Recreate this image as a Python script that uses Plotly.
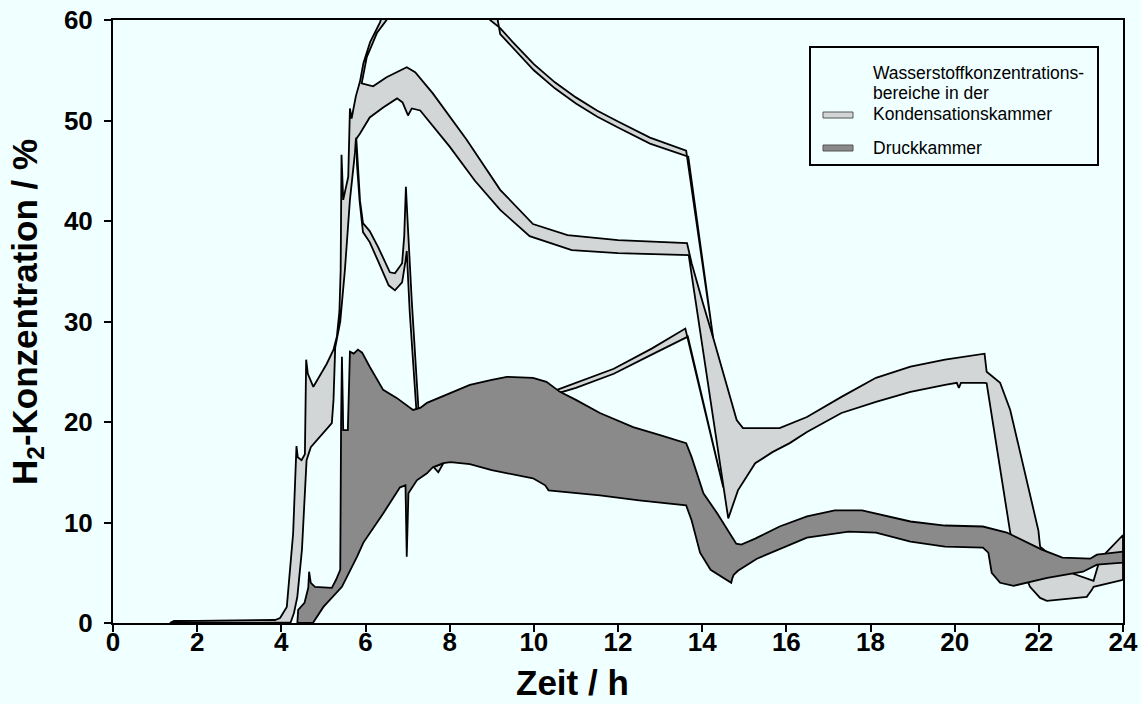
import plotly.graph_objects as go

# ---------------------------------------------------------------
# Wasserstoffkonzentrationsbereiche (Zeit in h, H2-Konzentration in %)
# Each band is described by its boundary curves (t, c).
# ---------------------------------------------------------------

# Kondensationskammer - rising band, left/upper edge (goes past 60 %)
rise_outer_t = [1.35, 1.45, 2.0, 3.0, 3.85, 3.97, 4.13, 4.28, 4.34, 4.36, 4.39, 4.48, 4.56,
                4.58, 4.59, 4.63, 4.76, 4.9, 5.08, 5.24, 5.32, 5.38, 5.41, 5.43, 5.47, 5.59,
                5.63, 5.67, 5.77, 5.87, 5.95, 6.11, 6.35, 6.45]
rise_outer_c = [0.0, 0.2, 0.22, 0.25, 0.3, 0.5, 1.6, 8.9, 15.5, 17.6, 16.5, 16.2, 16.8,
                22.0, 26.2, 24.8, 23.5, 24.5, 25.8, 27.2, 28.5, 31.0, 35.1, 46.6, 42.1, 44.4,
                51.2, 50.2, 52.4, 53.9, 55.7, 57.8, 59.8, 61.5]
# inner edge of the rising band, coming back from above 60 %
rise_inner_t = [6.6, 6.5, 6.27, 6.03, 5.91]
rise_inner_c = [61.5, 60.0, 58.7, 56.3, 53.7]
# band reaching 55 % at 7 h, upper edge
band2_upper_t = [6.18, 6.5, 6.98, 7.18, 7.6, 8.0, 8.4, 9.2, 9.98, 10.8, 12.0, 13.64]
band2_upper_c = [53.4, 54.3, 55.3, 54.8, 52.7, 50.4, 48.1, 43.1, 39.7, 38.6, 38.1, 37.8]
# band after 13.6 h, upper edge
tail_upper_t = [13.75, 14.02, 14.26, 14.82, 14.97, 15.84, 16.49, 17.31, 18.13, 18.95, 19.77,
                20.71, 20.76, 21.08, 21.32, 21.99, 22.03, 22.5, 22.82, 23.3, 23.42, 23.6, 24.0]
tail_upper_c = [35.8, 31.8, 28.4, 20.2, 19.4, 19.4, 20.5, 22.5, 24.4, 25.5, 26.2,
                26.8, 25.0, 23.9, 21.2, 9.2, 7.6, 6.0, 4.9, 4.2, 5.9, 7.0, 8.75]
# band after 13.6 h, lower edge (from 24 h back to the minimum at 14.6 h)
tail_lower_t = [24.0, 23.3, 23.26, 23.14, 22.19, 22.03, 21.79, 21.55, 21.32, 20.76, 20.71,
                20.15, 20.1, 20.05, 19.77, 18.95, 18.13, 17.31, 16.49, 16.08, 15.67, 15.26,
                14.85, 14.62]
tail_lower_c = [4.3, 3.6, 3.3, 2.6, 2.2, 2.5, 3.6, 6.0, 9.0, 23.85, 23.9,
                23.9, 23.4, 23.9, 23.7, 23.0, 22.0, 20.9, 19.0, 17.9, 17.0, 15.9,
                13.2, 10.4]
# band reaching 55 % at 7 h, lower edge (right to left)
band2_lower_t = [13.68, 12.0, 10.9, 9.9, 9.2, 8.6, 8.0, 7.3, 7.1, 7.01, 6.88, 6.75, 6.42,
                 6.1, 5.87, 5.77]
band2_lower_c = [36.6, 36.8, 37.1, 38.5, 41.1, 44.0, 47.4, 51.0, 51.2, 50.5, 51.8, 52.2, 51.3,
                 50.3, 48.7, 48.1]
# rising band, right edge (top to bottom) and base line
rise_right_t = [5.75, 5.63, 5.51, 5.4, 5.28, 5.24, 5.2, 5.0, 4.7, 4.6, 4.49, 4.38, 4.3,
                4.22, 3.9, 1.5]
rise_right_c = [46.8, 42.1, 35.1, 30.0, 27.4, 22.2, 19.9, 18.9, 17.5, 16.2, 7.3, 2.6, 1.0,
                0.05, 0.05, 0.05]

# Kondensationskammer - narrow band above 47 % (9 h .. 14.3 h)
top_upper_t = [8.9, 8.96, 9.2, 9.5, 10.0, 10.5, 11.0, 11.5, 12.0, 12.76, 13.62, 14.26]
top_upper_c = [61.0, 60.0, 59.2, 57.8, 55.6, 53.8, 52.3, 51.0, 49.9, 48.3, 47.0, 28.4]
top_lower_t = [13.67, 12.76, 12.0, 11.5, 11.0, 10.5, 10.0, 9.5, 9.2, 9.1]
top_lower_c = [46.4, 47.7, 49.3, 50.4, 51.7, 53.2, 55.0, 57.2, 58.6, 61.0]

# Kondensationskammer - narrow band rising to 29 % (10.5 h .. 14.5 h)
low_upper_t = [10.55, 11.0, 11.9, 12.8, 13.6, 14.5]
low_upper_c = [23.2, 23.9, 25.3, 27.3, 29.3, 13.5]
low_lower_t = [13.66, 12.8, 11.9, 11.0, 10.6]
low_lower_c = [28.5, 26.7, 24.8, 23.4, 22.9]

# Kondensationskammer - band 48 % -> 35 % with peak at 7 h
band3_upper_t = [5.78, 5.82, 5.87, 5.94, 6.1, 6.3, 6.58, 6.7, 6.87, 6.92, 6.96, 7.0, 7.1, 7.27]
band3_upper_c = [48.3, 45.0, 42.0, 39.8, 39.0, 37.4, 34.9, 34.8, 35.8, 38.5, 43.4, 40.0, 32.0, 20.5]
band3_lower_t = [7.22, 7.05, 6.98, 6.95, 6.87, 6.7, 6.55, 6.3, 6.1, 5.94, 5.86, 5.8, 5.77]
band3_lower_c = [20.5, 31.0, 37.0, 36.0, 33.9, 33.1, 33.6, 36.0, 37.9, 38.9, 42.0, 45.5, 48.0]

# Kondensationskammer - small range below the pressure chamber band near 7.7 h
notch_t = [7.62, 7.73, 7.85]
notch_c = [15.5, 15.0, 15.9]

# Druckkammer - upper edge
dk_upper_t = [4.38, 4.4, 4.55, 4.64, 4.66, 4.7, 4.8, 5.2, 5.3, 5.4, 5.42, 5.44, 5.46, 5.47,
              5.58, 5.6, 5.63, 5.72, 5.82, 5.92, 6.1, 6.42, 6.74, 7.13, 7.3, 7.46, 7.93, 8.48,
              9.0, 9.36, 9.98, 10.3, 10.62, 11.0, 11.57, 12.36, 13.0, 13.62, 13.75, 14.03,
              14.36, 14.81, 14.93, 15.26, 15.84, 16.49, 17.15, 17.8, 18.95, 19.77, 20.67,
              21.24, 22.07, 22.56, 23.22, 23.38, 24.0]
dk_upper_c = [0.0, 1.3, 2.0, 3.5, 5.1, 4.0, 3.6, 3.5, 4.3, 5.3, 20.0, 26.5, 22.0, 19.2,
              19.2, 24.0, 27.0, 26.8, 27.2, 26.9, 25.5, 23.2, 22.4, 21.2, 21.4, 21.9, 22.7, 23.7,
              24.2, 24.5, 24.4, 24.0, 23.0, 22.2, 20.9, 19.5, 18.7, 17.9, 16.5, 12.9,
              10.9, 7.9, 7.8, 8.4, 9.6, 10.6, 11.2, 11.2, 10.1, 9.7, 9.6,
              9.0, 7.3, 6.5, 6.4, 6.8, 7.1]
# Druckkammer - lower edge (right to left)
dk_lower_t = [24.0, 23.38, 23.05, 22.2, 21.72, 21.4, 21.08, 20.88, 20.8, 20.67, 19.77, 18.95,
              18.13, 17.48, 16.49, 15.67, 15.3, 15.0, 14.85, 14.75, 14.72, 14.69, 14.2, 13.95,
              13.75, 13.62, 12.5, 11.57, 10.5, 10.35, 10.27, 9.98, 9.0, 8.48, 8.02, 7.85, 7.6,
              7.46, 7.22, 7.02, 6.98, 6.95, 6.82, 6.42, 5.95, 5.8, 5.44, 5.0, 4.75]
dk_lower_c = [6.0, 5.8, 5.1, 4.5, 4.0, 3.7, 4.0, 5.0, 7.0, 7.5, 7.6, 8.1,
              9.0, 9.1, 8.5, 7.1, 6.4, 5.6, 5.2, 4.8, 4.5, 4.0, 5.3, 7.0,
              10.2, 11.7, 12.2, 12.7, 13.1, 13.2, 13.7, 14.4, 15.2, 15.8, 16.0, 15.9, 15.5,
              14.9, 14.2, 12.9, 6.6, 13.7, 13.5, 10.9, 8.0, 6.6, 3.6, 1.6, 0.0]

x_ticks = list(range(0, 25, 2))
y_ticks = list(range(0, 61, 10))

BG = "#F0FFFF"
LIGHT = "#D2D6D6"
DARK = "#8A8A8A"
FONT = "Liberation Sans"


def band(name, xs, ys, color, legend=False):
    return go.Scatter(
        x=xs + xs[:1], y=ys + ys[:1], mode="lines", fill="toself",
        fillcolor=color, line=dict(color="black", width=1.8),
        name=name, showlegend=legend, hoverinfo="skip",
    )


fig = go.Figure()

# Kondensationskammer (light) - one outline built from its edges
kk_x = (rise_outer_t + rise_inner_t + band2_upper_t + tail_upper_t + tail_lower_t
        + band2_lower_t + rise_right_t)
kk_y = (rise_outer_c + rise_inner_c + band2_upper_c + tail_upper_c + tail_lower_c
        + band2_lower_c + rise_right_c)
fig.add_trace(band("Kondensationskammer", kk_x, kk_y, LIGHT))
fig.add_trace(band("Kondensationskammer", top_upper_t + top_lower_t,
                   top_upper_c + top_lower_c, LIGHT))
fig.add_trace(band("Kondensationskammer", low_upper_t + low_lower_t,
                   low_upper_c + low_lower_c, LIGHT))
fig.add_trace(band("Kondensationskammer", band3_upper_t + band3_lower_t,
                   band3_upper_c + band3_lower_c, LIGHT))
fig.add_trace(band("Kondensationskammer", notch_t, notch_c, LIGHT))

# Druckkammer (dark)
fig.add_trace(band("Druckkammer", dk_upper_t + dk_lower_t, dk_upper_c + dk_lower_c, DARK))

# plot area in pixels: x 113..1123, y 20..623
L, R, T, B = 113, 18, 20, 81
W, H = 1141, 704
PW, PH = W - L - R, H - T - B


def px(xp):
    return (xp - L) / PW


def py(yp):
    return (H - B - yp) / PH


# legend box
fig.add_shape(type="rect", xref="paper", yref="paper",
              x0=px(810), x1=px(1098), y0=py(165), y1=py(47),
              line=dict(color="black", width=2), fillcolor=BG, layer="above")
fig.add_shape(type="rect", xref="paper", yref="paper",
              x0=px(823), x1=px(853), y0=py(118), y1=py(112),
              line=dict(color="#555555", width=1), fillcolor=LIGHT, layer="above")
fig.add_shape(type="rect", xref="paper", yref="paper",
              x0=px(823), x1=px(853), y0=py(151), y1=py(145),
              line=dict(color="#555555", width=1), fillcolor=DARK, layer="above")
legend_lines = [("Wasserstoffkonzentrations-", 73), ("bereiche in der", 93),
                ("Kondensationskammer", 114), ("Druckkammer", 148)]
for txt, yy in legend_lines:
    fig.add_annotation(text=txt, xref="paper", yref="paper", x=px(871), y=py(yy),
                       xanchor="left", yanchor="middle", showarrow=False,
                       font=dict(family=FONT, size=17.5, color="black"))

# axis titles
fig.add_annotation(text="Zeit / h", xref="paper", yref="paper", x=px(572), y=py(704),
                   xanchor="center", yanchor="bottom", showarrow=False,
                   font=dict(family=FONT, size=35, color="black", weight="bold"))
fig.add_annotation(text="H<sub>2</sub>-Konzentration / %", xref="paper", yref="paper",
                   x=px(27), y=py(312), xanchor="center", yanchor="middle",
                   textangle=-90, showarrow=False,
                   font=dict(family=FONT, size=35, color="black", weight="bold"))

axis_common = dict(showgrid=False, zeroline=False, showline=True, linecolor="black",
                   linewidth=2, mirror=True, ticks="outside", ticklen=7, tickwidth=2,
                   tickcolor="black", automargin=False,
                   tickfont=dict(family=FONT, size=26, color="black", weight="bold"))

fig.update_layout(
    width=W, height=H,
    margin=dict(l=L, r=R, t=T, b=B, pad=0, autoexpand=False),
    paper_bgcolor=BG, plot_bgcolor=BG,
    showlegend=False,
    xaxis=dict(range=[0, 24], tickvals=x_ticks, ticklabelstandoff=-12, **axis_common),
    yaxis=dict(range=[0, 60], tickvals=y_ticks, ticklabelstandoff=6, **axis_common),
)

fig.write_html("out.html")
